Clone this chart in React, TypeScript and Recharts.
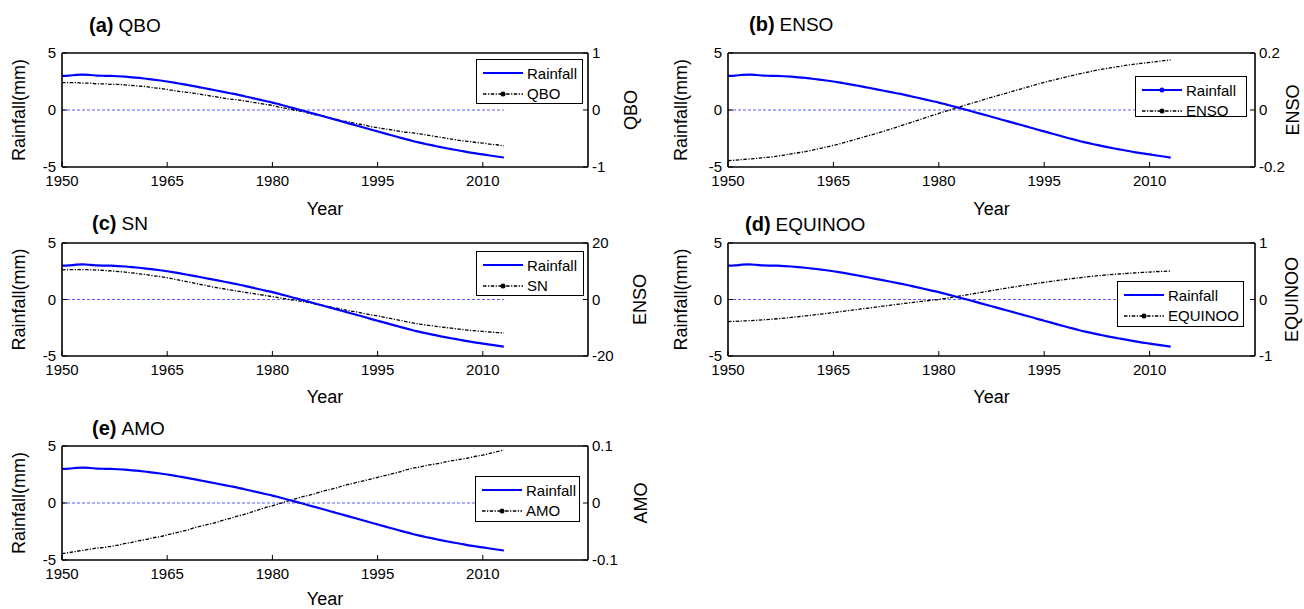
import React from "react";
import { LineChart, Line, XAxis, YAxis, ReferenceLine, Label } from "recharts";

const years = [
  1950, 1951, 1952, 1953, 1954, 1955, 1956, 1957, 1958, 1959,
  1960, 1961, 1962, 1963, 1964, 1965, 1966, 1967, 1968, 1969,
  1970, 1971, 1972, 1973, 1974, 1975, 1976, 1977, 1978, 1979,
  1980, 1981, 1982, 1983, 1984, 1985, 1986, 1987, 1988, 1989,
  1990, 1991, 1992, 1993, 1994, 1995, 1996, 1997, 1998, 1999,
  2000, 2001, 2002, 2003, 2004, 2005, 2006, 2007, 2008, 2009,
  2010, 2011, 2012, 2013,
];

const rainfall = [
  3.0, 3.02, 3.08, 3.1, 3.07, 3.02, 3.0, 2.99, 2.96, 2.92,
  2.87, 2.81, 2.74, 2.67, 2.59, 2.5, 2.4, 2.29, 2.18, 2.07,
  1.95, 1.83, 1.71, 1.59, 1.47, 1.35, 1.21, 1.07, 0.93, 0.79,
  0.65, 0.49, 0.33, 0.16, 0.0, -0.17, -0.34, -0.51, -0.68, -0.85,
  -1.02, -1.19, -1.36, -1.53, -1.71, -1.88, -2.05, -2.22, -2.39, -2.56,
  -2.72, -2.86, -3.0, -3.13, -3.26, -3.38, -3.49, -3.6, -3.71, -3.81,
  -3.9, -3.99, -4.08, -4.17,
];

const qbo = [
  0.48, 0.48, 0.48, 0.47, 0.47, 0.46, 0.46, 0.45, 0.45, 0.44,
  0.43, 0.42, 0.41, 0.39, 0.38, 0.36, 0.34, 0.32, 0.31, 0.29,
  0.27, 0.25, 0.23, 0.21, 0.19, 0.18, 0.16, 0.14, 0.12, 0.1,
  0.08, 0.05, 0.03, 0.0, -0.02, -0.05, -0.08, -0.1, -0.13, -0.16,
  -0.19, -0.21, -0.24, -0.26, -0.29, -0.31, -0.33, -0.35, -0.37, -0.39,
  -0.4, -0.42, -0.44, -0.46, -0.48, -0.5, -0.52, -0.54, -0.55, -0.57,
  -0.58, -0.6, -0.61, -0.63,
];

const enso = [
  -0.178, -0.176, -0.174, -0.172, -0.17, -0.167, -0.165, -0.162, -0.158, -0.154,
  -0.15, -0.146, -0.141, -0.135, -0.13, -0.124, -0.118, -0.111, -0.104, -0.097,
  -0.09, -0.083, -0.076, -0.068, -0.06, -0.052, -0.044, -0.036, -0.028, -0.02,
  -0.012, -0.004, 0.003, 0.011, 0.019, 0.026, 0.033, 0.041, 0.048, 0.055,
  0.062, 0.069, 0.076, 0.083, 0.09, 0.097, 0.103, 0.109, 0.115, 0.121,
  0.127, 0.132, 0.137, 0.142, 0.146, 0.15, 0.154, 0.158, 0.161, 0.164,
  0.167, 0.17, 0.173, 0.176,
];

const sn = [
  10.5, 10.6, 10.6, 10.6, 10.5, 10.4, 10.3, 10.1, 9.9, 9.7,
  9.4, 9.1, 8.8, 8.4, 8.1, 7.7, 7.2, 6.7, 6.2, 5.7,
  5.2, 4.7, 4.2, 3.8, 3.4, 3.0, 2.6, 2.2, 1.8, 1.4,
  1.0, 0.6, 0.2, -0.2, -0.6, -1.0, -1.5, -2.0, -2.5, -3.0,
  -3.5, -4.0, -4.4, -4.9, -5.4, -5.8, -6.3, -6.8, -7.3, -7.8,
  -8.3, -8.7, -9.1, -9.4, -9.7, -10.0, -10.3, -10.6, -10.9, -11.1,
  -11.3, -11.5, -11.7, -11.8,
];

const equinoo = [
  -0.39, -0.386, -0.381, -0.375, -0.368, -0.36, -0.351, -0.341, -0.33, -0.318,
  -0.305, -0.291, -0.277, -0.262, -0.247, -0.231, -0.215, -0.199, -0.183, -0.167,
  -0.151, -0.135, -0.119, -0.103, -0.087, -0.071, -0.056, -0.041, -0.027, -0.013,
  0.0, 0.02, 0.041, 0.062, 0.083, 0.104, 0.125, 0.146, 0.167, 0.188,
  0.208, 0.228, 0.248, 0.267, 0.286, 0.304, 0.321, 0.338, 0.354, 0.37,
  0.385, 0.4, 0.413, 0.425, 0.436, 0.446, 0.455, 0.464, 0.472, 0.479,
  0.486, 0.493, 0.499, 0.505,
];

const amo = [
  -0.089, -0.087, -0.085, -0.083, -0.081, -0.079, -0.078, -0.076, -0.074, -0.071,
  -0.069, -0.066, -0.064, -0.061, -0.059, -0.056, -0.053, -0.05, -0.047, -0.043,
  -0.04, -0.037, -0.034, -0.03, -0.027, -0.023, -0.02, -0.016, -0.012, -0.008,
  -0.005, -0.001, 0.003, 0.006, 0.01, 0.013, 0.016, 0.02, 0.023, 0.026,
  0.03, 0.033, 0.036, 0.039, 0.042, 0.045, 0.048, 0.051, 0.054, 0.058,
  0.061, 0.063, 0.066, 0.068, 0.07, 0.073, 0.075, 0.077, 0.079, 0.082,
  0.084, 0.087, 0.09, 0.093,
];

const yearTicks = [1950, 1965, 1980, 1995, 2010];
const rainTicks = [-5, 0, 5];

const FONT = "'Liberation Sans', Arial, Helvetica, sans-serif";
const LEFT_W = 62;
const RIGHT_W = 80;
const TOP = 41;
const XAXIS_H = 30;
const BOTTOM = 52;

type Box = { x: number; y: number; w: number; h: number };

interface PanelCfg {
  tag: string;
  name: string;
  axisName: string;
  values: number[];
  rightTicks: number[];
  plot: Box;
  legend: Box;
  titleX: number;
  titleBase: number;
  leftLabelX: number;
  rightLabelX: number;
  yearBase: number;
  rainDot?: boolean;
}

const panels: PanelCfg[] = [
  {
    tag: "(a)", name: "QBO", axisName: "QBO", values: qbo, rightTicks: [-1, 0, 1],
    plot: { x: 62, y: 53, w: 526, h: 114 }, legend: { x: 476, y: 59, w: 107, h: 45 },
    titleX: 89, titleBase: 32, leftLabelX: 19, rightLabelX: 631, yearBase: 215,
  },
  {
    tag: "(b)", name: "ENSO", axisName: "ENSO", values: enso, rightTicks: [-0.2, 0, 0.2],
    plot: { x: 728, y: 53, w: 527, h: 114 }, legend: { x: 1135, y: 76, w: 112, h: 41 },
    titleX: 749, titleBase: 31, leftLabelX: 681, rightLabelX: 1293, yearBase: 215, rainDot: true,
  },
  {
    tag: "(c)", name: "SN", axisName: "ENSO", values: sn, rightTicks: [-20, 0, 20],
    plot: { x: 62, y: 243, w: 526, h: 113 }, legend: { x: 476, y: 251, w: 108, h: 45 },
    titleX: 92, titleBase: 230, leftLabelX: 19, rightLabelX: 640, yearBase: 403,
  },
  {
    tag: "(d)", name: "EQUINOO", axisName: "EQUINOO", values: equinoo, rightTicks: [-1, 0, 1],
    plot: { x: 728, y: 243, w: 527, h: 113 }, legend: { x: 1117, y: 281, w: 127, h: 46 },
    titleX: 745, titleBase: 231, leftLabelX: 681, rightLabelX: 1292, yearBase: 403,
  },
  {
    tag: "(e)", name: "AMO", axisName: "AMO", values: amo, rightTicks: [-0.1, 0, 0.1],
    plot: { x: 62, y: 446, w: 526, h: 114 }, legend: { x: 475, y: 476, w: 105, h: 46 },
    titleX: 92, titleBase: 435, leftLabelX: 19, rightLabelX: 641, yearBase: 605,
  },
];

const BLUE = "#0000ff";
const DASHDOT = "3.5 1.5 1.2 1.5";

function LegendBox({ p }: { p: PanelCfg }) {
  const row = (sample: React.ReactNode, label: string) => (
    <div style={{ display: "flex", alignItems: "center", height: 20.5 }}>
      {sample}
      <span style={{ marginLeft: 4 }}>{label}</span>
    </div>
  );
  return (
    <div
      style={{
        position: "absolute", left: p.legend.x, top: p.legend.y,
        width: p.legend.w, height: p.legend.h, boxSizing: "border-box",
        background: "#fff", border: "1px solid #000", paddingTop: 3, paddingLeft: 6,
        fontFamily: FONT, fontSize: 15, color: "#000", lineHeight: "17px",
      }}
    >
      {row(
        <svg width={40} height={10}>
          <line x1={0} y1={5} x2={40} y2={5} stroke={BLUE} strokeWidth={2} />
          {p.rainDot && <circle cx={20} cy={5} r={2.5} fill={BLUE} />}
        </svg>,
        "Rainfall"
      )}
      {row(
        <svg width={40} height={10}>
          <line x1={0} y1={5} x2={40} y2={5} stroke="#000" strokeWidth={1.3} strokeDasharray={DASHDOT} />
          <circle cx={20} cy={5} r={2.5} fill="#000" />
        </svg>,
        p.name
      )}
    </div>
  );
}

function Panel({ p }: { p: PanelCfg }) {
  const rows = years.map((year, i) => ({ year, rain: rainfall[i], idx: p.values[i] }));
  const left = p.plot.x - LEFT_W;
  const top = p.plot.y - TOP;
  const width = LEFT_W + p.plot.w + RIGHT_W;
  const height = TOP + p.plot.h + BOTTOM;
  const axisLine = { stroke: "#000", strokeWidth: 1.6 };
  const tickLine = { stroke: "#000", strokeWidth: 1 };
  const tickStyle = { fill: "#000", fontSize: 15, fontFamily: FONT };
  const midY = TOP + p.plot.h / 2;
  const lx = p.leftLabelX - left;
  const rx = p.rightLabelX - left;
  const rDomain = [p.rightTicks[0], p.rightTicks[2]];

  return (
    <div style={{ position: "absolute", left, top }}>
      <LineChart
        width={width}
        height={height}
        data={rows}
        margin={{ top: TOP - 1, right: 0, bottom: BOTTOM - XAXIS_H, left: 0 }}
        style={{ overflow: "visible" }}
      >
        <XAxis
          xAxisId="b" dataKey="year" type="number" domain={[1950, 2025]} ticks={yearTicks}
          allowDataOverflow height={XAXIS_H} tickSize={-5} tickMargin={13}
          tick={tickStyle} axisLine={axisLine} tickLine={tickLine}
        >
          <Label
            content={() => (
              <text x={LEFT_W + p.plot.w / 2} y={p.yearBase - top} textAnchor="middle"
                fontFamily={FONT} fontSize={18} fill="#000">Year</text>
            )}
          />
        </XAxis>
        <XAxis
          xAxisId="t" orientation="top" dataKey="year" type="number" domain={[1950, 2025]}
          ticks={yearTicks} allowDataOverflow height={1} tickSize={-5} tick={false}
          axisLine={axisLine} tickLine={tickLine}
        >
          <Label
            content={() => (
              <text x={p.titleX - left} y={p.titleBase - top} fontFamily={FONT} fill="#000">
                <tspan fontWeight="bold" fontSize={20}>{p.tag}</tspan>
                <tspan fontSize={19} dx={5}>{p.name}</tspan>
              </text>
            )}
          />
        </XAxis>
        <YAxis
          yAxisId="L" domain={[-5, 5]} ticks={rainTicks} width={LEFT_W} tickSize={-5} tickMargin={11}
          tick={tickStyle} axisLine={axisLine} tickLine={tickLine} allowDataOverflow
        >
          <Label
            content={() => (
              <text x={lx} y={midY} dy="0.35em" textAnchor="middle" transform={`rotate(-90, ${lx}, ${midY})`}
                fontFamily={FONT} fontSize={18} fill="#000">Rainfall(mm)</text>
            )}
          />
        </YAxis>
        <YAxis
          yAxisId="R" orientation="right" domain={rDomain} ticks={p.rightTicks} width={RIGHT_W}
          tickSize={-5} tickMargin={9} tick={tickStyle} axisLine={axisLine} tickLine={tickLine} allowDataOverflow
        >
          <Label
            content={() => (
              <text x={rx} y={midY} dy="0.35em" textAnchor="middle" transform={`rotate(-90, ${rx}, ${midY})`}
                fontFamily={FONT} fontSize={18} fill="#000">{p.axisName}</text>
            )}
          />
        </YAxis>
        <ReferenceLine
          xAxisId="b" yAxisId="L"
          segment={[{ x: years[0], y: 0 }, { x: years[years.length - 1], y: 0 }]}
          stroke="#5a5aff" strokeWidth={1.2} strokeDasharray="3 2"
        />
        <Line
          xAxisId="b" yAxisId="R" dataKey="idx" type="monotone" stroke="#000" strokeWidth={1.3}
          strokeDasharray={DASHDOT} dot={false} isAnimationActive={false}
        />
        <Line
          xAxisId="b" yAxisId="L" dataKey="rain" type="monotone" stroke={BLUE} strokeWidth={2.2}
          dot={false} isAnimationActive={false}
        />
      </LineChart>
    </div>
  );
}

export default function App() {
  return (
    <div style={{ position: "absolute", left: 0, top: 0, width: 1304, height: 609, overflow: "hidden", background: "#fff" }}>
      {panels.map((p) => (
        <Panel key={p.tag} p={p} />
      ))}
      {panels.map((p) => (
        <LegendBox key={"lg" + p.tag} p={p} />
      ))}
    </div>
  );
}
